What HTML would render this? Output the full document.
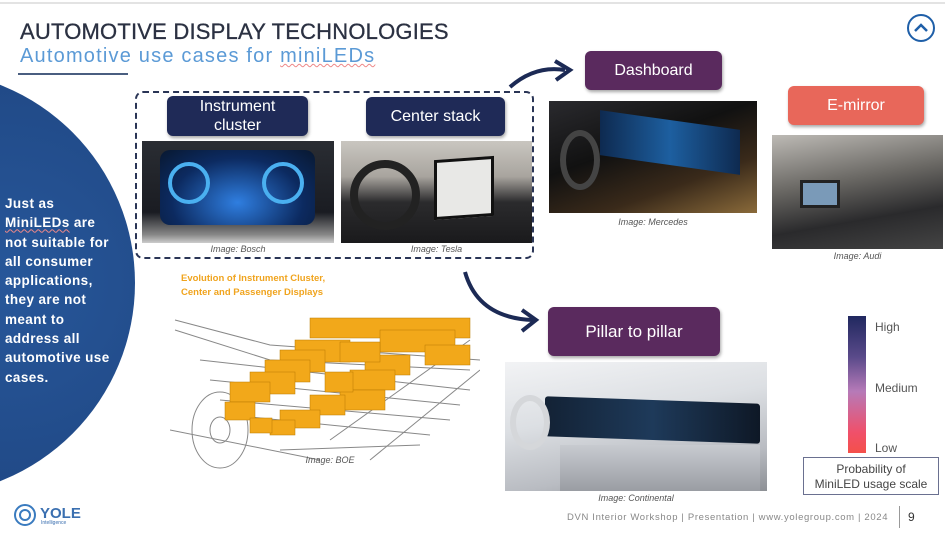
<!DOCTYPE html>
<html><head><meta charset="utf-8"><style>
*{margin:0;padding:0;box-sizing:border-box}
body{width:945px;height:533px;overflow:hidden;background:#fff;font-family:"Liberation Sans",sans-serif;position:relative}
.a{position:absolute}
.lbl{position:absolute;color:#fff;display:flex;align-items:center;justify-content:center;text-align:center;border-radius:6px;font-size:16px;line-height:19px;box-shadow:1px 2px 3px rgba(0,0,0,.35)}
.cap{position:absolute;font-size:9px;color:#555;font-style:italic;text-align:center}
</style></head><body>
<div class="a" style="left:0;top:2px;width:945px;height:2px;background:#e3e3e3"></div>
<div class="a" style="left:20px;top:19px;font-size:22px;color:#2b3142;letter-spacing:.2px;-webkit-text-stroke:.3px #2b3142">AUTOMOTIVE DISPLAY TECHNOLOGIES</div>
<div class="a" style="left:20px;top:45px;font-size:20px;color:#5b9ad6;letter-spacing:1.2px">Automotive use cases for <span style="text-decoration:underline wavy #e88;text-decoration-thickness:1px">miniLEDs</span></div>
<div class="a" style="left:18px;top:73px;width:110px;height:2px;background:#4a5e80"></div>
<div class="a" style="left:907px;top:14px;width:28px;height:28px;border:2.5px solid #1f5fa8;border-radius:50%"></div>
<svg class="a" style="left:907px;top:14px" width="28" height="28"><path d="M8 17 L14 11 L20 17" stroke="#1f5fa8" stroke-width="2.5" fill="none"/></svg>

<div class="a" style="left:-291px;top:70px;width:426px;height:426px;border-radius:50%;background:radial-gradient(circle at 70% 50%,#27579a,#1c3f78)"></div>
<div class="a" style="left:5px;top:194px;width:130px;font-size:13.5px;line-height:19.3px;color:#fff;font-weight:bold;letter-spacing:.4px">Just as<br><span style="text-decoration:underline wavy #e88;text-decoration-thickness:1px">MiniLEDs</span> are<br>not suitable for<br>all consumer<br>applications,<br>they are not<br>meant to<br>address all<br>automotive use<br>cases.</div>

<div class="a" style="left:135px;top:91px;width:399px;height:168px;border:2px dashed #2a3556;border-radius:8px"></div>
<div class="lbl" style="left:167px;top:96px;width:141px;height:40px;background:#1f2a57">Instrument<br>cluster</div>
<div class="lbl" style="left:366px;top:97px;width:139px;height:39px;background:#1f2a57">Center stack</div>
<div class="a" style="left:142px;top:141px;width:192px;height:102px;background:linear-gradient(#2a2d33,#1a1c22 70%,#888 92%,#ccc);"></div>
<div class="a" style="left:160px;top:150px;width:155px;height:75px;border-radius:10px;background:radial-gradient(ellipse at 50% 70%,#2f7ee0,#0c2a60 60%,#081830)"></div>
<div class="a" style="left:168px;top:162px;width:42px;height:42px;border-radius:50%;border:4px solid #4ab0f0"></div>
<div class="a" style="left:262px;top:162px;width:42px;height:42px;border-radius:50%;border:4px solid #4ab0f0"></div>
<div class="a" style="left:341px;top:141px;width:191px;height:102px;background:linear-gradient(#c9c6c0,#a8a49e 35%,#2b2b2d 60%,#1a1a1c)"></div>
<div class="a" style="left:350px;top:160px;width:70px;height:70px;border-radius:50%;border:8px solid #222"></div>
<div class="a" style="left:434px;top:158px;width:60px;height:60px;background:#e8e8e6;border:3px solid #111;transform:skewY(-4deg)"></div>
<div class="cap" style="left:142px;top:244px;width:192px">Image: Bosch</div>
<div class="cap" style="left:341px;top:244px;width:191px">Image: Tesla</div>

<div class="lbl" style="left:585px;top:51px;width:137px;height:39px;background:#5a2a5e">Dashboard</div>
<div class="a" style="left:549px;top:101px;width:208px;height:112px;background:linear-gradient(160deg,#2a2a2e,#111 40%,#3a2a1a 70%,#8a6a3a)"></div>
<div class="a" style="left:600px;top:120px;width:140px;height:45px;background:linear-gradient(90deg,#0e2a50,#1d5fa0,#0e2a50);transform:skewY(8deg)"></div>
<div class="a" style="left:560px;top:130px;width:40px;height:60px;border-radius:50%;border:6px solid #444"></div>
<div class="cap" style="left:549px;top:217px;width:208px">Image: Mercedes</div>

<div class="lbl" style="left:788px;top:86px;width:136px;height:39px;background:#e8675a">E-mirror</div>
<div class="a" style="left:772px;top:135px;width:171px;height:114px;background:linear-gradient(170deg,#bdbab5,#6a6864 40%,#2a2a2c 70%,#444)"></div>
<div class="a" style="left:800px;top:180px;width:40px;height:28px;background:#7a9ab8;border:3px solid #222"></div>
<div class="cap" style="left:772px;top:251px;width:171px">Image: Audi</div>

<div class="lbl" style="left:548px;top:307px;width:172px;height:49px;background:#5a2a5e;font-size:17px">Pillar to pillar</div>
<div class="a" style="left:505px;top:362px;width:262px;height:129px;background:linear-gradient(170deg,#f2f3f5,#dcdfe3 40%,#b9bcc2 75%,#8d9095)"></div>
<div class="a" style="left:545px;top:400px;width:215px;height:40px;background:linear-gradient(90deg,#132235,#1e3a5a 50%,#0e1826);transform:skewY(2deg);border-radius:3px"></div>
<div class="a" style="left:510px;top:395px;width:40px;height:55px;border-radius:50%;border:6px solid #d5d7da"></div>
<div class="a" style="left:560px;top:445px;width:200px;height:46px;background:linear-gradient(#c8cbd0,#9a9da3)"></div>
<div class="cap" style="left:505px;top:493px;width:262px">Image: Continental</div>

<div class="a" style="left:848px;top:316px;width:18px;height:137px;background:linear-gradient(#20285f,#5a4a8a 30%,#b67ab8 55%,#f0506a 85%,#f4504a)"></div>
<div class="a" style="left:875px;top:320px;font-size:12px;color:#555">High</div>
<div class="a" style="left:875px;top:381px;font-size:12px;color:#555">Medium</div>
<div class="a" style="left:875px;top:441px;font-size:12px;color:#555">Low</div>
<div class="a" style="left:803px;top:457px;width:136px;height:38px;border:1.5px solid #6a7090;font-size:12px;line-height:15px;color:#444;text-align:center;padding-top:4px">Probability of<br>MiniLED usage scale</div>

<div class="a" style="left:181px;top:272px;font-size:9.5px;font-weight:bold;color:#f0a41e;line-height:14px">Evolution of Instrument Cluster,<br>Center and Passenger Displays</div>
<svg class="a" style="left:170px;top:300px" width="310" height="170">
<g stroke="#888" fill="none" stroke-width="1">
<path d="M5 20 L100 45 L310 60"/><path d="M5 30 L100 60 L300 70"/>
<path d="M30 60 L300 90"/><path d="M40 80 L290 105"/><path d="M50 100 L280 120"/>
<path d="M60 115 L260 135"/><path d="M160 140 L300 40"/><path d="M200 160 L310 70"/>
<path d="M0 130 L150 160"/><path d="M110 150 L250 145"/>
<ellipse cx="50" cy="130" rx="28" ry="38"/><ellipse cx="50" cy="130" rx="10" ry="13"/>
</g>
<g fill="#f2a81a" stroke="#b87a00" stroke-width=".5">
<rect x="140" y="18" width="160" height="20"/><rect x="210" y="30" width="75" height="22"/>
<rect x="255" y="45" width="45" height="20"/><rect x="125" y="40" width="55" height="22"/>
<rect x="110" y="50" width="45" height="22"/><rect x="95" y="60" width="45" height="22"/>
<rect x="80" y="72" width="45" height="22"/><rect x="60" y="82" width="40" height="20"/>
<rect x="195" y="55" width="45" height="20"/><rect x="180" y="70" width="45" height="20"/>
<rect x="170" y="90" width="45" height="20"/><rect x="140" y="95" width="35" height="20"/>
<rect x="110" y="110" width="40" height="18"/><rect x="100" y="120" width="25" height="15"/>
<rect x="55" y="102" width="30" height="18"/><rect x="80" y="118" width="22" height="15"/>
<rect x="170" y="42" width="40" height="20"/><rect x="155" y="72" width="28" height="20"/>
</g></svg>
<div class="cap" style="left:175px;top:455px;width:310px">Image: BOE</div>

<svg class="a" style="left:0;top:0" width="945" height="533">
<path d="M510 87 Q535 65 565 70" stroke="#1c2a55" stroke-width="4" fill="none"/>
<path d="M555 61 L570 70 L556 80" stroke="#1c2a55" stroke-width="4" fill="none"/>
<path d="M465 272 Q478 318 533 320" stroke="#1c2a55" stroke-width="4" fill="none"/>
<path d="M522 310 L536 320 L522 331" stroke="#1c2a55" stroke-width="4" fill="none"/>
<circle cx="25" cy="515" r="10" fill="none" stroke="#3a7bbf" stroke-width="2"/>
<circle cx="25" cy="515" r="5" fill="none" stroke="#3a7bbf" stroke-width="2"/>
</svg>
<div class="a" style="left:40px;top:505px;font-size:15px;font-weight:bold;color:#3a6fb0">YOLE</div>
<div class="a" style="left:41px;top:520px;font-size:5px;color:#3a6fb0">Intelligence</div>
<div class="a" style="left:567px;top:512px;font-size:9.5px;color:#888;letter-spacing:.65px">DVN Interior Workshop | Presentation | www.yolegroup.com | 2024</div>
<div class="a" style="left:899px;top:506px;width:1px;height:22px;background:#999"></div>
<div class="a" style="left:908px;top:510px;font-size:12px;color:#333">9</div>
</body></html>
